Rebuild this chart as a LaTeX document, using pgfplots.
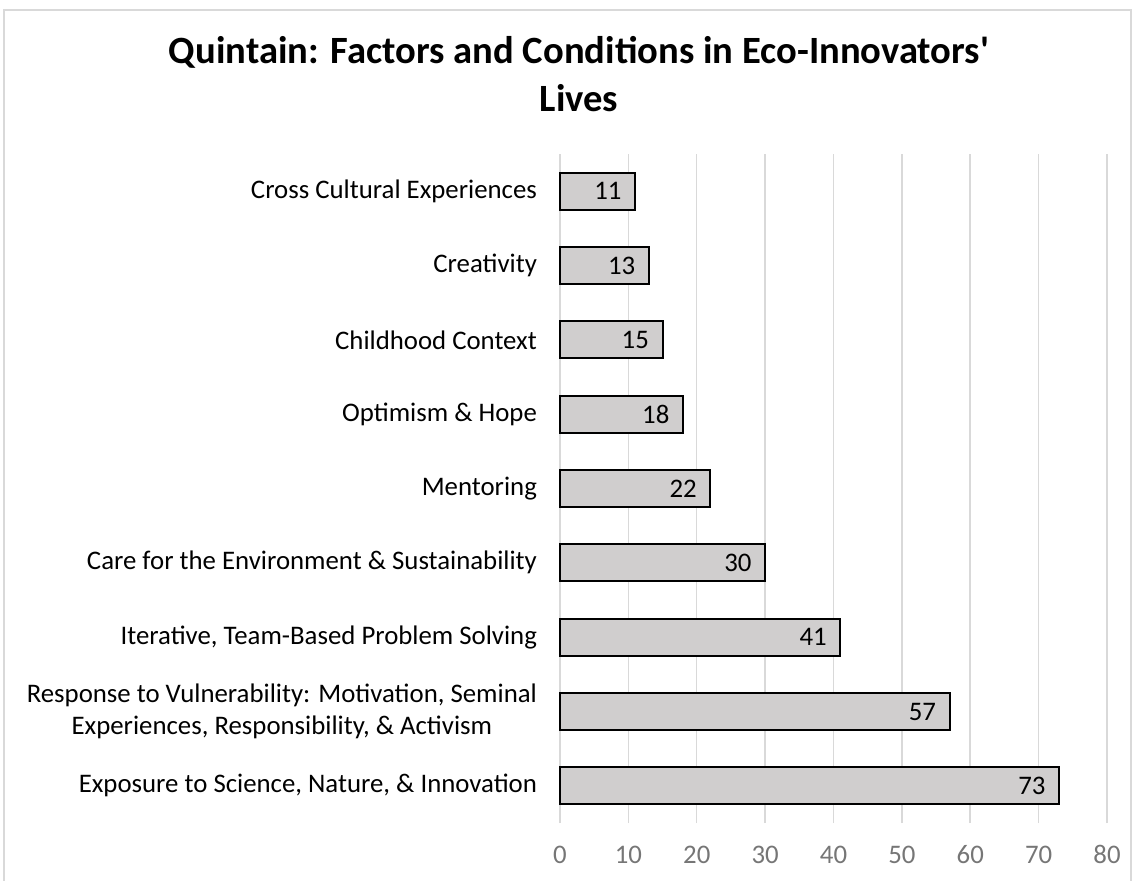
\documentclass[border=0pt]{standalone}
\usepackage{fontspec}
\setmainfont{Carlito}
\usepackage{pgfplots}
\pgfplotsset{compat=1.18}
\definecolor{barfill}{RGB}{208,206,206}
\definecolor{gridc}{RGB}{217,217,217}
\definecolor{tickc}{RGB}{118,118,118}
\definecolor{framec}{RGB}{217,217,217}
\begin{document}
\begin{tikzpicture}
\useasboundingbox (0,0) rectangle (568pt,440pt);
\draw[framec, line width=0.75pt] (2pt,-5pt) -- (2pt,435pt) -- (565.5pt,435pt) -- (565.5pt,-5pt);
\node[anchor=base, font=\fontsize{19.3}{23}\selectfont\bfseries] at (289.5pt,408pt) {Quintain: Factors and Conditions in Eco-Innovators\textquotesingle};
\node[anchor=base, font=\fontsize{19.3}{23}\selectfont\bfseries] at (289.5pt,384pt) {Lives};
\begin{axis}[
 at={(280pt,28.5pt)}, anchor=south west,
 scale only axis, width=273.5pt, height=334.5pt,
 xbar, bar width=0.5,
 xmin=0, xmax=80, ymin=-0.5, ymax=8.5,
 xtick={0,10,...,80}, ytick={0,...,8},
 /pgf/number format/assume math mode=true,
 yticklabels={{Exposure to Science, Nature, \& Innovation},
   {Response to Vulnerability: Motivation, Seminal\\Experiences, Responsibility, \& Activism},
   {Iterative, Team-Based Problem Solving},
   {Care for the Environment \& Sustainability},
   {Mentoring},
   {Optimism \& Hope},
   {Childhood Context},
   {Creativity},
   {Cross Cultural Experiences}},
 xmajorgrids, ymajorgrids=false,
 major grid style={gridc, line width=0.75pt},
 axis line style={draw=none},
 major tick length=0,
 tick label style={font=\fontsize{13.4}{16}\selectfont},
 xticklabel style={tickc, anchor=base, yshift=-20pt},
 yticklabel style={align=center, xshift=-8pt, black},
 nodes near coords,
 every node near coord/.append style={anchor=east, xshift=-3pt, font=\fontsize{13.4}{16}\selectfont, black},
 clip=false,
]
\addplot[fill=barfill, draw=black, line width=1pt] coordinates {
 (73,0) (57,1) (41,2) (30,3) (22,4) (18,5) (15,6) (13,7) (11,8)};
\end{axis}
\end{tikzpicture}
\end{document}
